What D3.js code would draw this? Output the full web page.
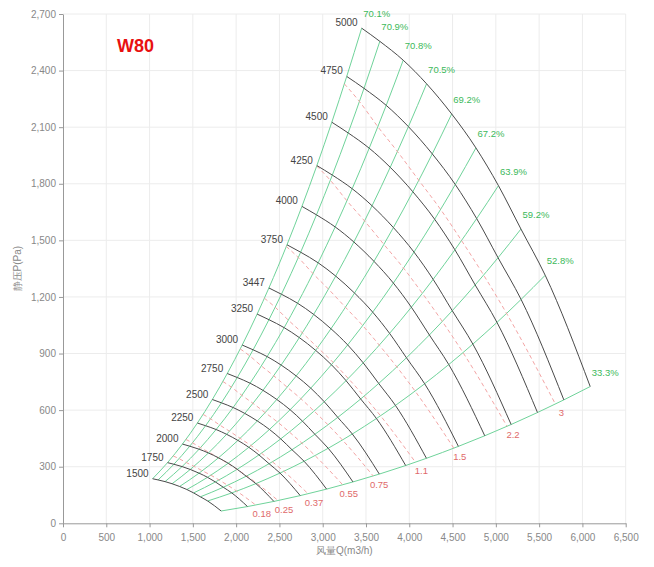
<!DOCTYPE html>
<html><head><meta charset="utf-8">
<script src="https://cdn.jsdelivr.net/npm/d3@7"></script>
<style>body{margin:0;background:#fff}svg{display:block}</style>
</head><body>
<svg id="c" width="654" height="567"></svg>
<script>
// ---- data ----
const speeds = [1500,1750,2000,2250,2500,2750,3000,3250,3447,3750,4000,4250,4500,4750,5000];
const baseSpeed = 5000;
// operating points on the 5000 rpm curve (where efficiency lines meet it)
const baseFlow = [3450,3660,3930,4200,4490,4770,5030,5290,5570,6090];
const basePressure = [2625,2555,2455,2330,2170,1990,1790,1560,1315,725];
const efficiency = [70.1,70.9,70.8,70.5,69.2,67.2,63.9,59.2,52.8,33.3];
const powerRatings = [0.18,0.25,0.37,0.55,0.75,1.1,1.5,2.2,3];
const xTicks = [0,500,1000,1500,2000,2500,3000,3500,4000,4500,5000,5500,6000,6500];
const yTicks = [0,300,600,900,1200,1500,1800,2100,2400,2700];
const title = "W80";
const xTitle = "风量Q(m3/h)";
const yTitle = "静压P(Pa)";

// ---- drawing ----
const svg = d3.select("#c");
const x = d3.scaleLinear().domain([0,6500]).range([63,625.7]);
const y = d3.scaleLinear().domain([0,2700]).range([523.3,14]);
const font = "'Liberation Sans', Arial, sans-serif";

// grid
svg.append("g").selectAll("line").data(xTicks.slice(1)).join("line")
  .attr("x1",d=>x(d)).attr("x2",d=>x(d)).attr("y1",y(0)).attr("y2",y(2700))
  .attr("stroke","#ececec").attr("stroke-width",1);
svg.append("g").selectAll("line").data(yTicks.slice(1)).join("line")
  .attr("x1",x(0)).attr("x2",x(6500)).attr("y1",d=>y(d)).attr("y2",d=>y(d))
  .attr("stroke","#ececec").attr("stroke-width",1);

// axes
const fmt = d3.format(",");
const gx = svg.append("g").attr("transform",`translate(0,${y(0)})`)
  .call(d3.axisBottom(x).tickValues(xTicks).tickFormat(fmt).tickSize(4).tickSizeOuter(0));
const gy = svg.append("g").attr("transform",`translate(${x(0)},0)`)
  .call(d3.axisLeft(y).tickValues(yTicks).tickFormat(fmt).tickSize(4).tickSizeOuter(0));
[gx,gy].forEach(g=>{
  g.select(".domain").attr("stroke","#999");
  g.selectAll(".tick line").attr("stroke","#999");
  g.selectAll(".tick text").attr("fill","#888").attr("font-size",10).attr("font-family",font);
});
gx.selectAll(".tick text").attr("dy","1.05em");

svg.append("text").attr("x",(x(0)+x(6500))/2).attr("y",554).attr("text-anchor","middle")
  .attr("font-size",10).attr("fill","#888").attr("font-family",font).text(xTitle);
svg.append("text").attr("transform",`translate(21,${(y(0)+y(2700))/2}) rotate(-90)`)
  .attr("text-anchor","middle").attr("font-size",10).attr("fill","#888").attr("font-family",font).text(yTitle);

// fan-law helpers
const pt = (i,n)=>{const r=n/baseSpeed; return [baseFlow[i]*r, basePressure[i]*r*r];};
const idx = d3.range(baseFlow.length);
const line = d3.line().x(d=>x(d[0])).y(d=>y(d[1])).curve(d3.curveMonotoneX);

// efficiency lines (green)
const gEff = svg.append("g");
idx.forEach(i=>{
  gEff.append("path").attr("d",line(speeds.map(n=>pt(i,n))))
    .attr("fill","none").attr("stroke","#6fd39a").attr("stroke-width",1);
});

// power lines (red dashed)
const basePower = idx.map(i=>baseFlow[i]/3600*basePressure[i]/(efficiency[i]/100)/1000);
const gPow = svg.append("g");
powerRatings.forEach(W=>{
  const pts = idx.map(i=>{const r=Math.cbrt(W/basePower[i]); return [baseFlow[i]*r, basePressure[i]*r*r];});
  gPow.append("path").attr("d",line(pts)).attr("fill","none")
    .attr("stroke","#f3a5a5").attr("stroke-width",1).attr("stroke-dasharray","4,3");
  const e = pts[pts.length-1];
  gPow.append("text").attr("x",x(e[0])+6).attr("y",y(e[1])+12).attr("text-anchor","middle")
    .attr("font-size",9.5).attr("fill","#e06a6a").attr("font-family",font).text(W);
});

// speed curves (dark)
const gSp = svg.append("g");
speeds.forEach(n=>{
  const pts = idx.map(i=>pt(i,n));
  gSp.append("path").attr("d",line(pts)).attr("fill","none")
    .attr("stroke","#4a4a4a").attr("stroke-width",1);
  gSp.append("text").attr("x",x(pts[0][0])-4).attr("y",y(pts[0][1])-2).attr("text-anchor","end")
    .attr("font-size",10).attr("fill","#444").attr("font-family",font).text(n);
});

// efficiency labels
idx.forEach(i=>{
  const p = pt(i,baseSpeed);
  svg.append("text").attr("x",x(p[0])+15).attr("y",y(p[1])-11).attr("text-anchor","middle")
    .attr("font-size",9.5).attr("fill","#3cb95a").attr("font-family",font).text(efficiency[i]+"%");
});

// title
svg.append("text").attr("x",117).attr("y",52).attr("font-size",18).attr("font-weight","bold")
  .attr("fill","#e81010").attr("font-family",font).text(title);
</script>
</body></html>
